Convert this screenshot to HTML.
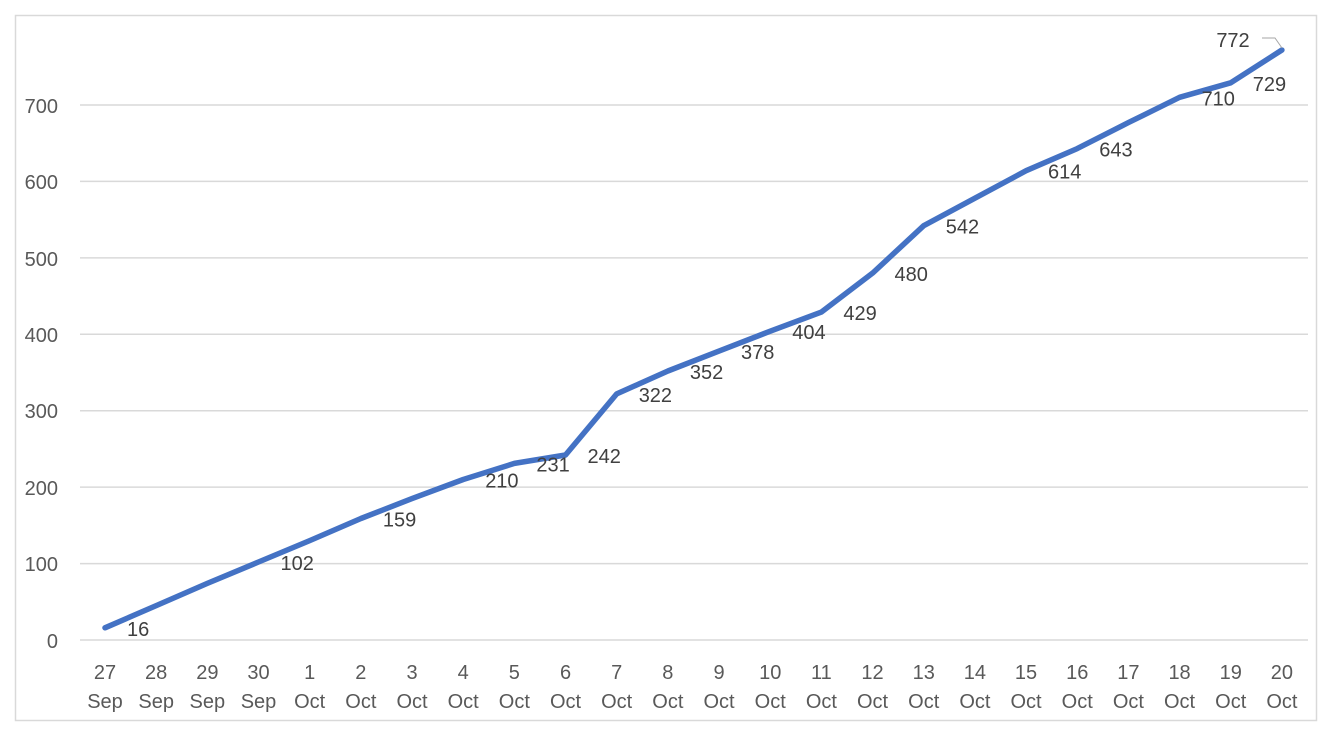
<!DOCTYPE html>
<html><head><meta charset="utf-8"><style>
html,body{margin:0;padding:0;background:#fff;}
svg{display:block;font-family:"Liberation Sans",sans-serif;}
</style></head><body>
<svg width="1330" height="733" viewBox="0 0 1330 733">
<rect x="15.5" y="15.5" width="1301" height="705" fill="#fff" stroke="#d9d9d9" stroke-width="1.5"/>
<g stroke="#d9d9d9" stroke-width="1.5">
<line x1="80" y1="640" x2="1308" y2="640"/>
<line x1="80" y1="563.6" x2="1308" y2="563.6"/>
<line x1="80" y1="487.1" x2="1308" y2="487.1"/>
<line x1="80" y1="410.7" x2="1308" y2="410.7"/>
<line x1="80" y1="334.3" x2="1308" y2="334.3"/>
<line x1="80" y1="257.9" x2="1308" y2="257.9"/>
<line x1="80" y1="181.4" x2="1308" y2="181.4"/>
<line x1="80" y1="105" x2="1308" y2="105"/>
</g>
<g fill="#595959" font-size="20" text-anchor="end">
<text x="58" y="648">0</text>
<text x="58" y="571">100</text>
<text x="58" y="495">200</text>
<text x="58" y="418">300</text>
<text x="58" y="342">400</text>
<text x="58" y="266">500</text>
<text x="58" y="189">600</text>
<text x="58" y="113">700</text>
</g>
<g id="xl" fill="#595959" font-size="20" text-anchor="middle"></g>
<polyline id="ln" fill="none" stroke="#4472c4" stroke-width="5.5" stroke-linejoin="round" stroke-linecap="round" points=""/>
<g id="dl" fill="#404040" font-size="20"></g>
<polyline points="1262,38 1275,38 1282,48" fill="none" stroke="#a6a6a6" stroke-width="1"/>
<text x="1233" y="47" fill="#404040" font-size="20" text-anchor="middle">772</text>
</svg>
<script>
var cats=[["27","Sep"],["28","Sep"],["29","Sep"],["30","Sep"]];
for(var d=1;d<=20;d++)cats.push([""+d,"Oct"]);
var vals=[16,45,74,102,130,159,185,210,231,242,322,352,378,404,429,480,542,578,614,643,677,710,729,772];
var lab=[1,0,0,1,0,1,0,1,1,1,1,1,1,1,1,1,1,0,1,1,0,1,1,0];
var ns="http://www.w3.org/2000/svg",pts=[];
var xl=document.getElementById("xl"),dl=document.getElementById("dl");
for(var i=0;i<24;i++){
 var x=105+51.17*i,y=640-0.7643*vals[i];
 pts.push(x.toFixed(1)+","+y.toFixed(1));
 for(var r=0;r<2;r++){var t=document.createElementNS(ns,"text");t.setAttribute("x",x);t.setAttribute("y",r?708:679);t.textContent=cats[i][r];xl.appendChild(t);}
 if(lab[i]){var t=document.createElementNS(ns,"text");t.setAttribute("x",x+22);t.setAttribute("y",y+8);t.textContent=vals[i];dl.appendChild(t);}
}
document.getElementById("ln").setAttribute("points",pts.join(" "));
</script>
</body></html>
